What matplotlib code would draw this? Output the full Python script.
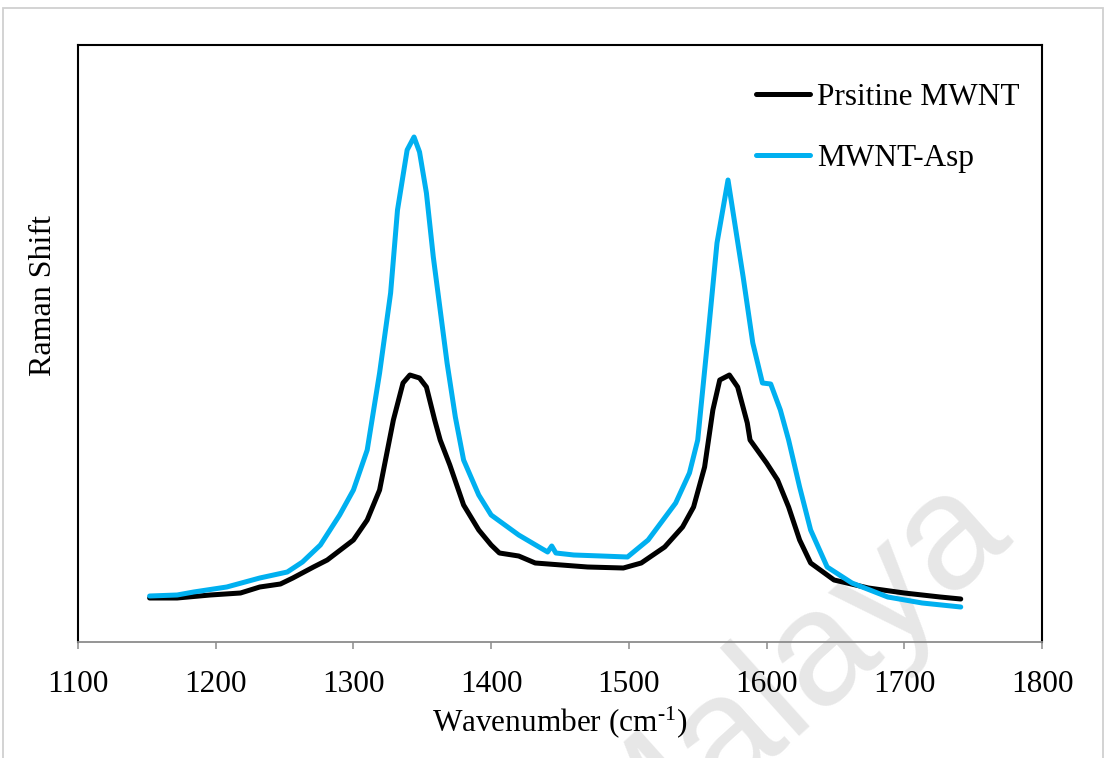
import matplotlib
matplotlib.use("Agg")
from matplotlib import pyplot as plt
from matplotlib.patches import Rectangle

plt.rcParams['font.family'] = ['Liberation Serif', 'DejaVu Serif']
plt.rcParams['mathtext.fontset'] = 'stix'

# Raman spectra (arbitrary intensity units)
pristine_wn = [1152, 1172, 1196, 1218, 1232, 1247, 1256, 1271, 1281, 1300,
               1310, 1319, 1329, 1336, 1341, 1348, 1353, 1359, 1363, 1370,
               1380, 1391, 1400, 1406, 1420, 1432, 1470, 1496, 1509, 1526,
               1539, 1547, 1555, 1561, 1566, 1573, 1579, 1586, 1588, 1600,
               1608, 1616, 1624, 1632, 1649, 1674, 1700, 1726, 1741]
pristine_int = [44, 44, 47, 49, 55, 58, 64, 75, 82, 102,
                122, 152, 222, 259, 267, 264, 255, 222, 202, 177,
                137, 112, 97, 89, 86, 79, 75, 74, 79, 95,
                115, 135, 175, 232, 262, 267, 255, 219, 202, 179,
                162, 135, 102, 79, 62, 54, 49, 45, 43]

asp_wn = [1152, 1172, 1184, 1208, 1232, 1252, 1263, 1276, 1290, 1300,
          1310, 1319, 1327, 1332, 1339, 1344, 1348, 1353, 1358, 1363,
          1368, 1374, 1380, 1391, 1400, 1420, 1436, 1441, 1444, 1447,
          1460, 1480, 1499, 1514, 1534, 1544, 1550, 1557, 1564, 1572,
          1583, 1590, 1597, 1603, 1610, 1616, 1624, 1632, 1644, 1662,
          1688, 1713, 1741]
asp_int = [46, 47, 50, 55, 64, 70, 80, 97, 127, 152,
           192, 269, 349, 432, 492, 505, 490, 449, 385, 332,
           279, 225, 182, 147, 127, 107, 94, 90, 96, 89,
           87, 86, 85, 102, 139, 169, 202, 299, 399, 462,
           365, 299, 259, 258, 232, 202, 155, 112, 75, 59,
           45, 39, 35]

series_labels = ['Prsitine MWNT', 'MWNT-Asp']
series_colors = ['#000000', '#00B0F0']

fig = plt.figure(figsize=(11.07, 7.58), dpi=100)
ax = fig.add_axes([78 / 1107, 1 - 642 / 758, 964 / 1107, 597 / 758])
ax.set_facecolor('none')

# faint watermark behind the plot
fig.text(1012 / 1107, 1 - 532 / 758, 'Malaya', family='Liberation Sans',
         fontsize=118, color='#e7e7e7', rotation=42, rotation_mode='anchor',
         ha='right', va='baseline', zorder=-5)

ax.plot(pristine_wn, pristine_int, color=series_colors[0], lw=3.6,
        label=series_labels[0], solid_capstyle='round')
ax.plot(asp_wn, asp_int, color=series_colors[1], lw=3.6,
        label=series_labels[1], solid_capstyle='round')

ax.set_xlim(1100, 1800)
ax.set_ylim(0, 597)
ax.set_xticks(range(1100, 1801, 100))
ax.set_yticks([])
ax.tick_params(axis='x', direction='out', length=5, width=1.1,
               color='#8c8c8c', labelsize=22.5, pad=15)

for side in ['top', 'left', 'right']:
    ax.spines[side].set_color('black')
    ax.spines[side].set_linewidth(1.5)
ax.spines['bottom'].set_color('#8c8c8c')
ax.spines['bottom'].set_linewidth(1.3)

ax.set_xlabel('Wavenumber (cm$^{\\mathregular{\u2010 1}}$)', fontsize=22.5)
ax.xaxis.set_label_coords(0.5, -0.136)
ax.xaxis.label.set_va('center')
ax.set_ylabel('Raman Shift', fontsize=23)
ax.yaxis.set_label_coords(-0.0363, 0.58)
ax.yaxis.label.set_va('center')

leg = ax.legend(loc='upper left', bbox_to_anchor=(0.703, 0.937), frameon=False,
                fontsize=22.5, handlelength=1.75, handletextpad=0.22,
                labelspacing=1.05, borderpad=0, borderaxespad=0)

# light grey chart-area border
fig.add_artist(Rectangle((3 / 1107, -0.05), 1100 / 1107, 1 - 8 / 758 + 0.05,
                         transform=fig.transFigure, fill=False,
                         edgecolor='#d0d0d0', lw=1.3))

fig.savefig('out.png', dpi=100)
